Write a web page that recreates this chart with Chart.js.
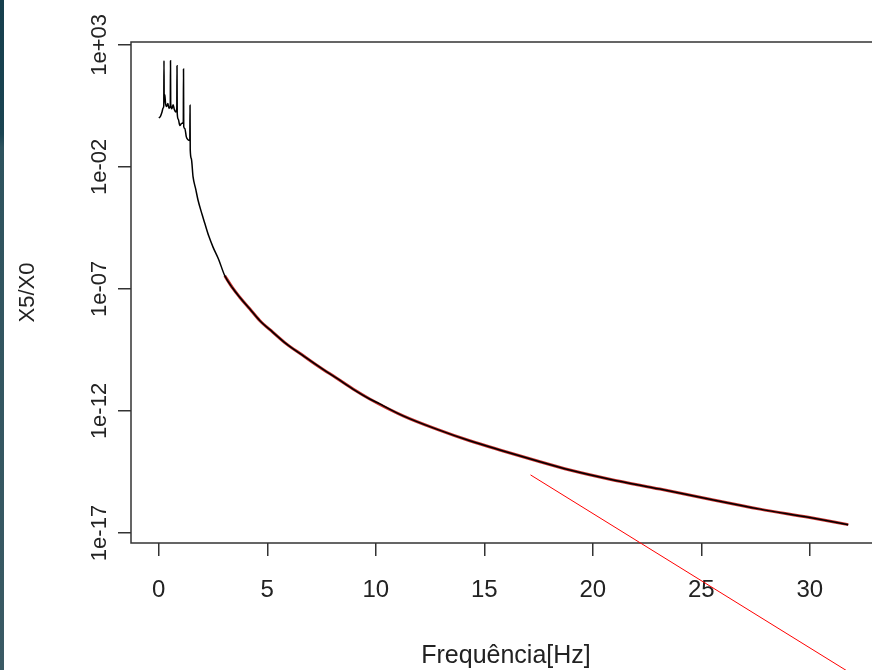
<!DOCTYPE html>
<html>
<head>
<meta charset="utf-8">
<script src="https://cdn.jsdelivr.net/npm/chart.js@4/dist/chart.umd.min.js"></script>
<style>
  html, body { margin: 0; padding: 0; background: #fff; overflow: hidden; }
  #faixa { position: absolute; left: 0; top: 0; width: 4px; height: 670px;
           background: linear-gradient(#163f4d 0%, #1a4452 20%, #2e535e 22%, #3a5a64 100%); }
  #grafico { display: block; }
</style>
</head>
<body>
<div id="faixa"></div>
<canvas id="grafico" width="900" height="670"></canvas>
<script>
// =========================================
// X5/X0 x Frequência (escala log em y)
// =========================================

// curva medida (preta)
const freqHz = [0.01, 0.08, 0.15, 0.2, 0.23, 0.24, 0.25, 0.28, 0.31, 0.36, 0.42, 0.47, 0.53, 0.54, 0.55,
  0.6, 0.66, 0.72, 0.78, 0.83, 0.84, 0.85, 0.9, 0.97, 1.05, 1.13, 1.14, 1.15, 1.2, 1.27, 1.35, 1.43, 1.44,
  1.45, 1.5, 1.58, 1.7, 1.81, 2.0, 2.12, 2.3, 2.5, 2.75, 3.04, 3.4, 3.73, 4.2, 4.65, 5.25, 5.88, 6.6,
  7.42, 8.2, 8.95, 9.72, 10.18, 11.26, 12.8, 14.33, 15.87, 17.41, 18.94, 20.78, 23.09, 25.39, 27.7, 30.0, 31.77];
const razaoX5X0 = [1.0, 1.2, 1.8, 2.6, 3.2, 224, 4.5, 9.0, 4.0, 3.0, 4.0, 2.5, 3.2, 224, 3.8,
  2.4, 3.5, 2.2, 1.8, 2.5, 141, 1.6, 0.9, 0.5, 0.6, 0.7, 102, 0.45, 0.38, 0.17, 0.13, 0.12, 3.4,
  0.05, 0.022, 3.9e-3, 1.26e-3, 4.3e-4, 1.1e-4, 4.9e-5, 1.5e-5, 5.2e-6, 1.7e-6, 3.5e-7, 1.1e-7, 4.6e-8, 1.5e-8, 5.1e-9, 1.7e-9, 5.6e-10, 2.0e-10,
  6.2e-11, 2.2e-11, 7.9e-12, 3.1e-12, 1.95e-12, 6.3e-13, 1.8e-13, 6.0e-14, 2.3e-14, 9.1e-15, 3.8e-15, 1.6e-15, 6.3e-16, 2.4e-16, 9.5e-17, 4.3e-17, 2.2e-17];

// curva ajustada (vermelha)
const freqAjuste = [3.04, 3.4, 3.73, 4.2, 4.65, 5.25, 5.88, 6.6, 7.42, 8.2, 8.95, 9.72, 11.26, 12.8,
  14.33, 15.87, 17.41, 18.94, 20.78, 23.09, 25.39, 27.7, 30.0, 31.77];
const valoresAjuste = [3.5e-7, 1.1e-7, 4.6e-8, 1.5e-8, 5.1e-9, 1.7e-9, 5.6e-10, 2.0e-10, 6.2e-11, 2.2e-11, 7.9e-12, 3.1e-12, 6.3e-13, 1.8e-13,
  6.0e-14, 2.3e-14, 9.1e-15, 3.8e-15, 1.6e-15, 6.3e-16, 2.4e-16, 9.5e-17, 4.3e-17, 2.2e-17];

// traço vermelho solto (anotação feita em cima da imagem)
const tracoX = [17.13, 31.69];
const tracoY = [2.4e-15, 2.3e-23];

// eixos
const ticksX = [0, 5, 10, 15, 20, 25, 30];
const ticksY = [1e-17, 1e-12, 1e-7, 1e-2, 1e3];
const rotulosY = ["1e-17", "1e-12", "1e-07", "1e-02", "1e+03"];

const FONTE = "'Liberation Sans', Arial, sans-serif";
const pares = (xs, ys) => xs.map((x, i) => ({ x: x, y: ys[i] }));

// moldura do gráfico (box do R)
const moldura = {
  id: "moldura",
  beforeDatasetsDraw(chart) {
    const { ctx, chartArea: a } = chart;
    ctx.save();
    ctx.strokeStyle = "#333";
    ctx.lineWidth = 1.5;
    ctx.strokeRect(a.left, a.top, a.right - a.left, a.bottom - a.top);
    ctx.restore();
  }
};

new Chart(document.getElementById("grafico"), {
  type: "line",
  data: {
    datasets: [
      { data: pares(freqAjuste, valoresAjuste), borderColor: "#c8302c", borderWidth: 3,
        cubicInterpolationMode: "monotone", order: 2 },
      { data: pares(freqHz, razaoX5X0), borderColor: "#000", borderWidth: 1.5,
        cubicInterpolationMode: "monotone", order: 1 },
      { data: pares(tracoX, tracoY), borderColor: "#ff0000", borderWidth: 1, clip: false, order: 0 }
    ]
  },
  options: {
    responsive: false,
    animation: false,
    events: [],
    layout: { padding: { left: 0, top: 42, right: 19, bottom: 0 } },
    elements: { point: { radius: 0 } },
    plugins: { legend: { display: false }, tooltip: { enabled: false } },
    scales: {
      x: {
        type: "linear",
        min: -1.28, max: 33.28,
        afterBuildTicks: s => { s.ticks = ticksX.map(v => ({ value: v })); },
        afterFit: s => { s.height = 127; },
        border: { display: false },
        grid: { drawOnChartArea: false, drawTicks: true, tickLength: 13, color: "#333", lineWidth: 1.5 },
        ticks: { color: "#222", padding: 20, maxRotation: 0, font: { family: FONTE, size: 24 } },
        title: { display: true, text: "Frequência[Hz]", color: "#222", padding: { top: 0, bottom: -1 },
                 font: { family: FONTE, size: 25 } }
      },
      y: {
        type: "logarithmic",
        min: Math.pow(10, -17.41), max: Math.pow(10, 3.12),
        afterBuildTicks: s => { s.ticks = ticksY.map(v => ({ value: v })); },
        afterFit: s => { s.width = 131; },
        border: { display: false },
        grid: { drawOnChartArea: false, drawTicks: true, tickLength: 13, color: "#333", lineWidth: 1.5 },
        ticks: {
          color: "#222", padding: -13, minRotation: 90, maxRotation: 90, crossAlign: "center",
          font: { family: FONTE, size: 22 },
          callback: v => { const i = ticksY.indexOf(v); return i >= 0 ? rotulosY[i] : ""; }
        },
        title: { display: true, text: "X5/X0", color: "#222", padding: { top: 15, bottom: 0 },
                 font: { family: FONTE, size: 22 } }
      }
    }
  },
  plugins: [moldura]
});
</script>
</body>
</html>
